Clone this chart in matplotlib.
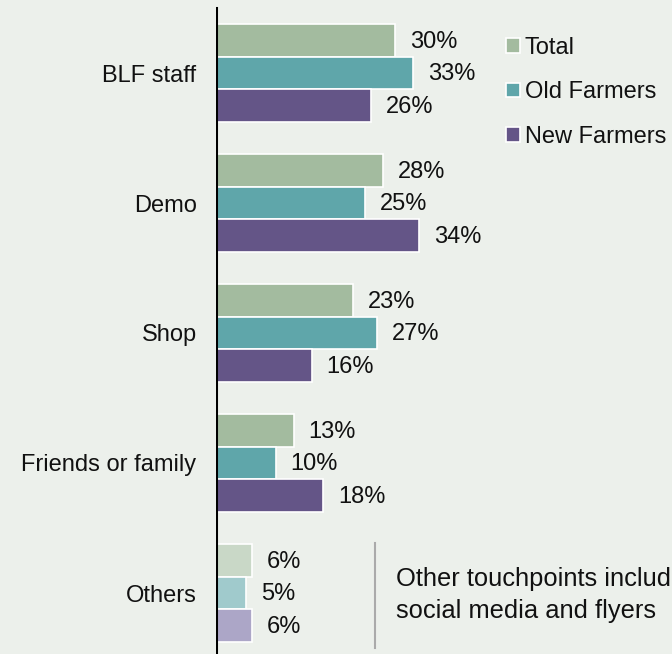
import matplotlib
matplotlib.use("Agg")
import matplotlib.pyplot as plt
from matplotlib.patches import Patch
from matplotlib.lines import Line2D

categories = ["BLF staff", "Demo", "Shop", "Friends or family", "Others"]
series_names = ["Total", "Old Farmers", "New Farmers"]
total = [30, 28, 23, 13, 6]
old_farmers = [33, 25, 27, 10, 5]
new_farmers = [26, 34, 16, 18, 6]
note = "Other touchpoints include\nsocial media and flyers"

colors = ["#a3bb9f", "#5fa6aa", "#645587"]
light_colors = ["#c9d8c7", "#a0cacc", "#aca6c7"]
bg = "#ecf0eb"

plt.rcParams['font.family'] = ['Liberation Sans', 'DejaVu Sans']
W, H = 672, 654
fig = plt.figure(figsize=(W / 100, H / 100), dpi=100, facecolor=bg)
ax = fig.add_axes([216 / W, 0, 456 / W, 1])
ax.set_facecolor(bg)

px_per_unit = 5.97
ax.set_xlim(0, 456 / px_per_unit)
period = 130.0
c0 = 73.0
ax.set_ylim((H - c0) / period, (0 - c0) / period)

bar_h = 0.25
fs = 17
offsets = [-0.25, 0.0, 0.25]
series = [total, old_farmers, new_farmers]
for s_idx, vals in enumerate(series):
    for i, v in enumerate(vals):
        col = light_colors[s_idx] if categories[i] == "Others" else colors[s_idx]
        y = i + offsets[s_idx]
        ax.barh(y, v, height=bar_h, color=col, edgecolor="white", linewidth=1.2)
        ax.text(v + 15 / px_per_unit, y + 0.01, f"{v}%", va="center", ha="left",
                fontsize=fs, color="#111111")

ax.set_yticks(range(len(categories)))
ax.set_yticklabels(categories, fontsize=fs, color="#111111")
ax.tick_params(axis="y", length=0, pad=14)
ax.set_xticks([])
for sp in ax.spines.values():
    sp.set_visible(False)
ax.axvline(0, ymin=0, ymax=1 - 8 / H, color="black", linewidth=2.2)

handles = [Patch(facecolor=c, edgecolor="white", linewidth=1.2) for c in colors]
leg = ax.legend(handles, series_names, loc="upper left",
                bbox_to_anchor=(506 / W, 1 - 37 / H), bbox_transform=fig.transFigure,
                frameon=False, fontsize=fs, handlelength=0.58, handleheight=0.58,
                handletextpad=0.22, labelspacing=0.95, borderaxespad=0, borderpad=0)
for t in leg.get_texts():
    t.set_color("#111111")

fig.add_artist(Line2D([375 / W, 375 / W], [1 - 543 / H, 1 - 648 / H],
                      transform=fig.transFigure, color="#aaaaaa", linewidth=1.5))
fig.text(396 / W, 1 - 595 / H, note, fontsize=18.4, va="center", ha="left",
         color="#111111", linespacing=1.4)

fig.savefig("out.png", dpi=100, facecolor=bg)
